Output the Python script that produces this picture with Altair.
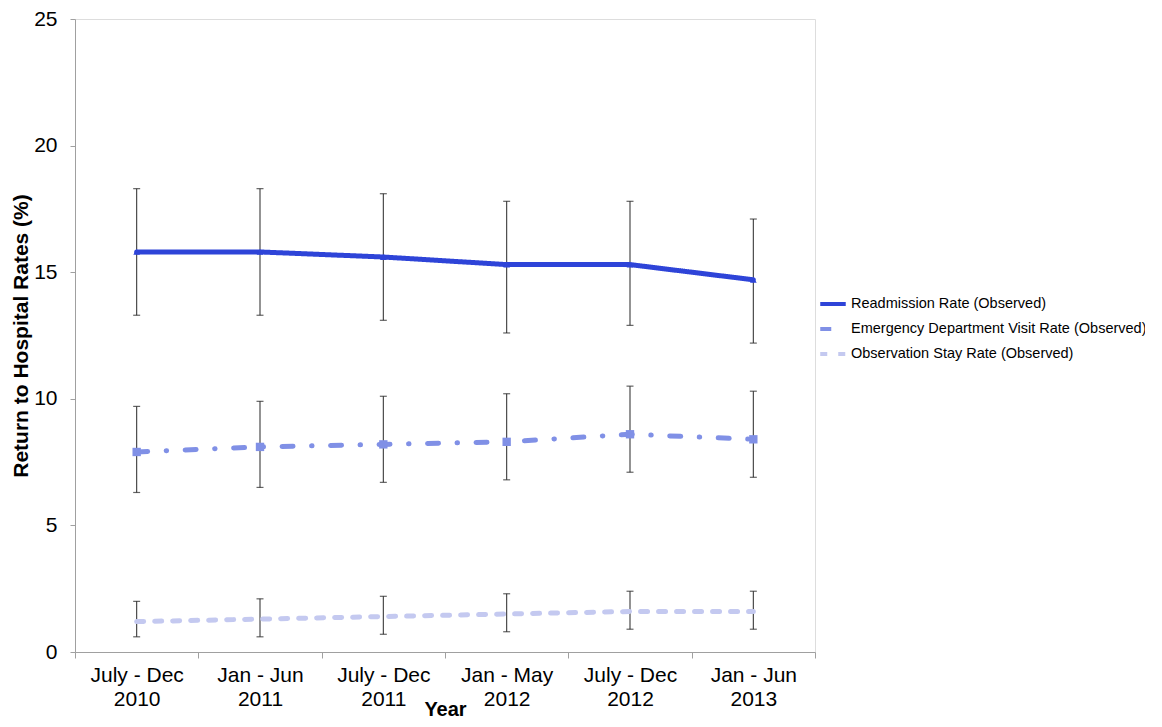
import altair as alt
import pandas as pd

periods = ["July - Dec\n2010", "Jan - Jun\n2011", "July - Dec\n2011",
           "Jan - May\n2012", "July - Dec\n2012", "Jan - Jun\n2013"]

series_names = ["Readmission Rate (Observed)",
                "Emergency Department Visit Rate (Observed)",
                "Observation Stay Rate (Observed)"]

readmit = [15.8, 15.8, 15.6, 15.3, 15.3, 14.7]
readmit_lo = [13.3, 13.3, 13.1, 12.6, 12.9, 12.2]
readmit_hi = [18.3, 18.3, 18.1, 17.8, 17.8, 17.1]

ed = [7.9, 8.1, 8.2, 8.3, 8.6, 8.4]
ed_lo = [6.3, 6.5, 6.7, 6.8, 7.1, 6.9]
ed_hi = [9.7, 9.9, 10.1, 10.2, 10.5, 10.3]

obs = [1.2, 1.3, 1.4, 1.5, 1.6, 1.6]
obs_lo = [0.6, 0.6, 0.7, 0.8, 0.9, 0.9]
obs_hi = [2.0, 2.1, 2.2, 2.3, 2.4, 2.4]

colors = ["#2E44D8", "#8090E6", "#C4C9F0"]
dashes = [[1, 0], [11, 18.5, 0.5, 18.5], [7, 11]]

rows = []
for name, vals, los, his in zip(series_names,
                                [readmit, ed, obs],
                                [readmit_lo, ed_lo, obs_lo],
                                [readmit_hi, ed_hi, obs_hi]):
    for i, (p, v, lo, hi) in enumerate(zip(periods, vals, los, his)):
        rows.append({"series": name, "period": p, "idx": i,
                     "value": v, "lo": lo, "hi": hi})
df = pd.DataFrame(rows)

FONT = "Liberation Sans"

x_enc = alt.X("period:N", sort=periods, title="Year",
              scale=alt.Scale(paddingInner=0, paddingOuter=0),
              axis=alt.Axis(labelAngle=0, labelExpr="split(datum.label, '\\n')",
                            tickBand="extent", labelFontSize=21, labelLineHeight=24,
                            labelPadding=6, titleFontSize=20, titleFontWeight="bold",
                            titlePadding=-10, labelColor="#000000", titleColor="#000000",
                            domainColor="#A0A0A0", tickColor="#A0A0A0", tickSize=6,
                            grid=False, labelFont=FONT, titleFont=FONT))

y_scale = alt.Scale(domain=[0, 25], nice=False)
y_axis = alt.Axis(values=[0, 5, 10, 15, 20, 25], title="Return to Hospital Rates (%)",
                  labelFontSize=21, titleFontSize=21, titleFontWeight="bold",
                  labelPadding=13, titlePadding=2, tickSize=5, grid=False,
                  domainColor="#A0A0A0", tickColor="#A0A0A0",
                  labelColor="#000000", titleColor="#000000",
                  labelFont=FONT, titleFont=FONT)

legend_def = alt.Legend(orient="none", legendX=743, legendY=270,
                        title=None, symbolType="stroke",
                        symbolSize=650, symbolStrokeWidth=4,
                        labelFontSize=14.5, labelFont=FONT, labelLimit=0,
                        labelColor="#000000", labelOffset=3,
                        rowPadding=2, padding=0)

base = alt.Chart(df)

err_rule = base.mark_rule(color="#3a3a3a", strokeWidth=1.1).encode(
    x=x_enc,
    y=alt.Y("lo:Q", scale=y_scale, axis=y_axis),
    y2="hi:Q",
)
cap_lo = base.mark_tick(color="#222222", size=7, thickness=1.2).encode(
    x=x_enc, y=alt.Y("lo:Q", scale=y_scale))
cap_hi = base.mark_tick(color="#222222", size=7, thickness=1.2).encode(
    x=x_enc, y=alt.Y("hi:Q", scale=y_scale))

lines = base.mark_line(strokeWidth=5, strokeCap="round", strokeJoin="round").encode(
    x=x_enc,
    y=alt.Y("value:Q", scale=y_scale),
    color=alt.Color("series:N", sort=series_names,
                    scale=alt.Scale(domain=series_names, range=colors),
                    legend=legend_def),
    strokeDash=alt.StrokeDash("series:N", sort=series_names,
                              scale=alt.Scale(domain=series_names, range=dashes),
                              legend=legend_def),
    order=alt.Order("idx:Q"),
)

tri = base.mark_point(shape="triangle-up", filled=True, size=45, opacity=1,
                      color=colors[0]).encode(
    x=x_enc, y=alt.Y("value:Q", scale=y_scale)
).transform_filter(alt.datum.series == series_names[0])

sq = base.mark_point(shape="square", filled=True, size=70, opacity=1,
                     color=colors[1]).encode(
    x=x_enc, y=alt.Y("value:Q", scale=y_scale)
).transform_filter(alt.datum.series == series_names[1])

chart = alt.layer(err_rule, cap_lo, cap_hi, lines, tri, sq).properties(
    width=740, height=633,
    autosize=alt.AutoSizeParams(type="none"),
    padding={"left": 67, "top": 11, "right": 330, "bottom": 67},
).configure_view(stroke=None).configure(font=FONT, background="#ffffff")

chart.save("out.html", embed_options={"renderer": "svg", "actions": False})
